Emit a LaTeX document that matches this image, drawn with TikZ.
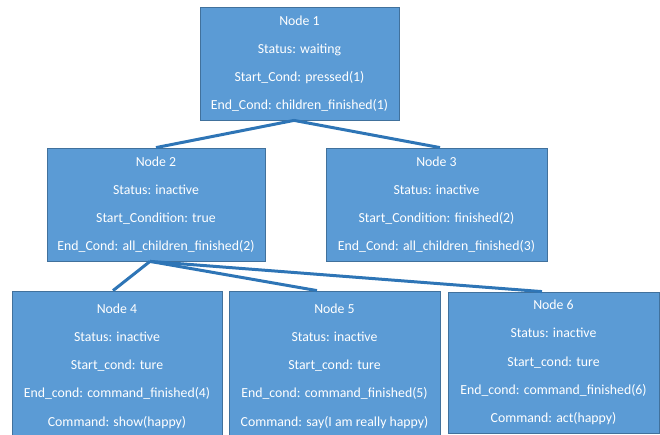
\documentclass[tikz,border=0pt]{standalone}
\usepackage{fontspec}
\setmainfont{Carlito}
\usetikzlibrary{positioning}
\definecolor{nblue}{RGB}{91,155,213}
\definecolor{nedge}{RGB}{65,113,156}
\definecolor{lblue}{RGB}{46,117,182}

\tikzset{
  tnode/.style={rectangle, fill=nblue, draw=nedge, line width=0.8pt, text=white,
    align=center, inner sep=0pt, font={\fontsize{13.8}{28.2}\selectfont}},
  tlink/.style={color=lblue, line width=3pt},
}

\begin{document}
\begin{tikzpicture}[x=1pt, y=-1pt]
\clip (0,0) rectangle (660,435);

%top level
\node[tnode, minimum width=199pt, minimum height=113pt] (n1) at (299.5,63.5)
  {Node 1\\Status: waiting\\Start\_Cond: pressed(1)\\End\_Cond: children\_finished(1)};

%second level
\node[tnode, minimum width=218pt, minimum height=113pt] (n2) at (156,204.5)
  {Node 2\\Status: inactive\\Start\_Condition: true\\End\_Cond: all\_children\_finished(2)};
\node[tnode, minimum width=221pt, minimum height=113pt] (n3) at (436.5,204.5)
  {Node 3\\Status: inactive\\Start\_Condition: finished(2)\\End\_Cond: all\_children\_finished(3)};

%leaves
\node[tnode, minimum width=210pt, minimum height=150pt] (n4) at (117,366)
  {Node 4\\Status: inactive\\Start\_cond: ture\\End\_cond: command\_finished(4)\\Command: show(happy)};
\node[tnode, minimum width=211pt, minimum height=150pt] (n5) at (334.5,366)
  {Node 5\\Status: inactive\\Start\_cond: ture\\End\_cond: command\_finished(5)\\Command: say(I am really happy)};
\node[tnode, minimum width=211pt, minimum height=141pt] (n6) at (553.5,362.5)
  {Node 6\\Status: inactive\\Start\_cond: ture\\End\_cond: command\_finished(6)\\Command: act(happy)};

%links
\draw[tlink] ([xshift=-5.5pt]n1.south) -- (n2.north);
\draw[tlink] ([xshift=-5.5pt]n1.south) -- ([xshift=3.5pt]n3.north);
\draw[tlink] ([xshift=-6pt]n2.south) -- ([xshift=-4pt]n4.north);
\draw[tlink] ([xshift=-6pt]n2.south) -- ([xshift=-17.5pt]n5.north);
\draw[tlink] ([xshift=-6pt]n2.south) -- ([xshift=-11.5pt]n6.north);

\end{tikzpicture}
\end{document}
